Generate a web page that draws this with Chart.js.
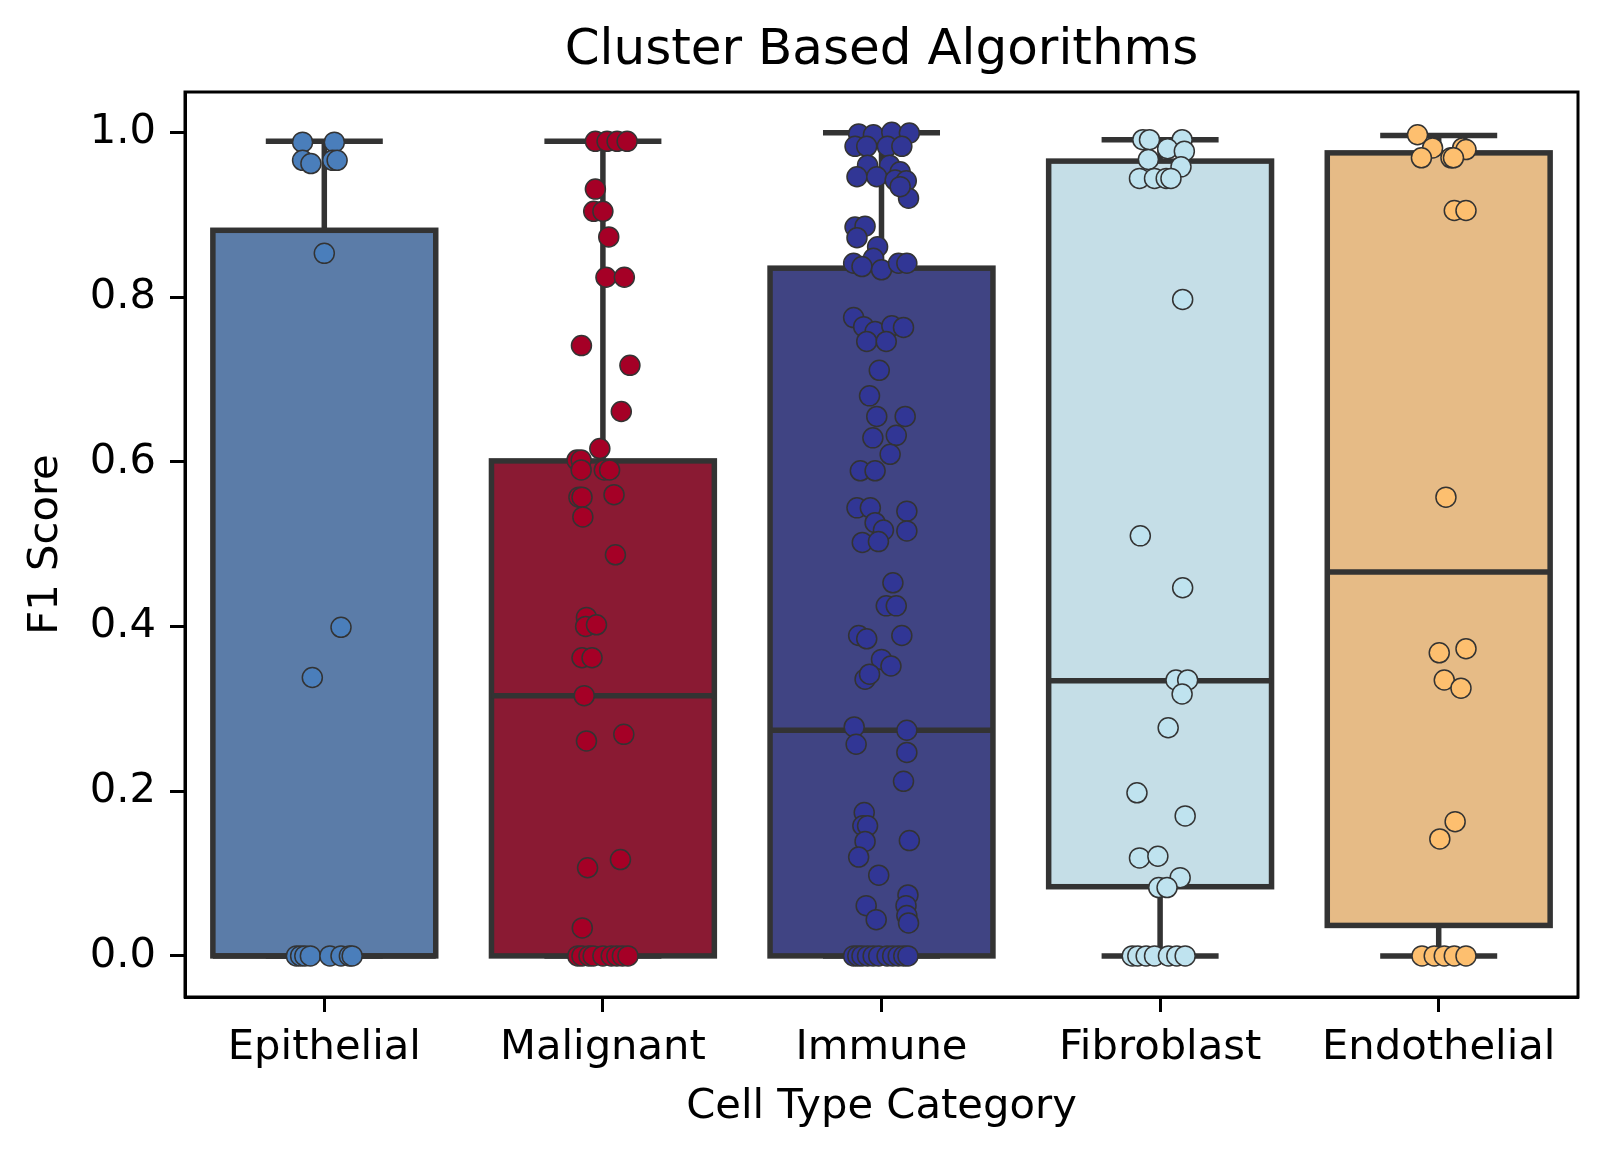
<!DOCTYPE html>
<html>
<head>
<meta charset="utf-8">
<script src="https://cdn.jsdelivr.net/npm/chart.js@4.4.1/dist/chart.umd.min.js"></script>
<style>
  html, body { margin: 0; padding: 0; background: #fff; }
  #wrap { width: 1609px; height: 1158px; }
</style>
</head>
<body>
<div id="wrap"><canvas id="boxChart" width="1609" height="1158"></canvas></div>
<script>
const categories = ["Epithelial", "Malignant", "Immune", "Fibroblast", "Endothelial"];
const yTicks = [0, 0.2, 0.4, 0.6, 0.8, 1.0];
const chartTitle = "Cluster Based Algorithms";

// box stats
const q1 = [0, 0, 0, 0.084, 0.037];
const medians = [0, 0.316, 0.274, 0.334, 0.466];
const q3 = [0.881, 0.601, 0.835, 0.965, 0.975];
const whiskerLow = [0, 0, 0, 0, 0];
const whiskerHigh = [0.989, 0.989, 0.9995, 0.991, 0.996];

// strip points: F1 values + horizontal jitter (in category units)
const epithelialF1 = [0.988, 0.988, 0.966, 0.962, 0.966, 0.966, 0.853, 0.399, 0.338,
  0, 0, 0, 0, 0, 0, 0, 0];
const epithelialJitter = [-0.078, 0.036, -0.078, -0.048, 0.03, 0.046, 0.0, 0.06, -0.043,
  -0.1, -0.085, -0.07, -0.05, 0.02, 0.06, 0.09, 0.1];

const malignantF1 = [0.989, 0.989, 0.989, 0.989, 0.931, 0.904, 0.904, 0.873, 0.824, 0.824,
  0.741, 0.717, 0.661, 0.616, 0.602, 0.602, 0.590, 0.590, 0.590, 0.557, 0.557, 0.560, 0.533,
  0.487, 0.411, 0.400, 0.402, 0.362, 0.362, 0.316, 0.269, 0.261, 0.117, 0.107, 0.034,
  0, 0, 0, 0, 0, 0, 0, 0, 0];
const malignantJitter = [-0.027, 0.015, 0.051, 0.087, -0.027, -0.033, 0.0, 0.021, 0.011, 0.077,
  -0.077, 0.097, 0.066, -0.011, -0.093, -0.078, -0.078, 0.005, 0.024, -0.086, -0.075, 0.04, -0.072,
  0.045, -0.059, -0.062, -0.023, -0.075, -0.039, -0.067, 0.075, -0.059, 0.063, -0.055, -0.074,
  -0.09, -0.075, -0.05, -0.035, 0.0, 0.03, 0.05, 0.07, 0.09];

const immuneF1 = [0.998, 0.997, 1.0, 0.999, 0.983, 0.983, 0.983, 0.983,
  0.960, 0.960, 0.952, 0.946, 0.946, 0.942, 0.941, 0.920, 0.934,
  0.885, 0.886, 0.872, 0.861, 0.847, 0.841, 0.837, 0.833, 0.841, 0.841,
  0.775, 0.764, 0.758, 0.765, 0.763, 0.746, 0.746,
  0.711, 0.680, 0.655, 0.655, 0.629, 0.632, 0.609,
  0.589, 0.589, 0.544, 0.544, 0.540, 0.526, 0.517, 0.516, 0.502, 0.503,
  0.453, 0.425, 0.425, 0.389, 0.385, 0.389, 0.360, 0.352, 0.336, 0.342,
  0.278, 0.274, 0.257, 0.247, 0.212,
  0.174, 0.158, 0.158, 0.139, 0.140, 0.120, 0.098,
  0.074, 0.061, 0.049, 0.040, 0.061, 0.044,
  0, 0, 0, 0, 0, 0, 0, 0, 0, 0, 0];
const immuneJitter = [-0.082, -0.029, 0.037, 0.1, -0.095, -0.053, 0.021, 0.073,
  -0.05, 0.029, 0.067, -0.088, -0.017, 0.049, 0.089, 0.097, 0.067,
  -0.095, -0.059, -0.088, -0.014, -0.029, -0.1, -0.07, 0.0, 0.061, 0.091,
  -0.1, -0.064, -0.023, 0.037, 0.079, -0.053, 0.017,
  -0.008, -0.043, -0.017, 0.085, -0.031, 0.053, 0.031,
  -0.076, -0.023, -0.088, -0.04, 0.091, -0.023, 0.007, 0.091, -0.069, -0.011,
  0.041, 0.017, 0.053, -0.082, -0.053, 0.073, 0.0, 0.034, -0.059, -0.043,
  -0.098, 0.091, -0.091, 0.091, 0.079,
  -0.062, -0.067, -0.05, -0.059, 0.1, -0.082, -0.01,
  0.095, 0.088, 0.091, 0.097, -0.055, -0.019,
  -0.1, -0.085, -0.07, -0.05, -0.03, -0.01, 0.02, 0.04, 0.06, 0.08, 0.095];

const fibroblastF1 = [0.991, 0.991, 0.991, 0.980, 0.977, 0.967, 0.958, 0.944, 0.944, 0.944, 0.944,
  0.797, 0.510, 0.447, 0.335, 0.335, 0.318, 0.277, 0.198, 0.170, 0.119, 0.121, 0.095, 0.083, 0.083,
  0, 0, 0, 0, 0, 0, 0];
const fibroblastJitter = [-0.062, -0.038, 0.079, 0.027, 0.087, -0.042, 0.075, -0.074, -0.02, 0.022, 0.039,
  0.081, -0.071, 0.081, 0.057, 0.099, 0.079, 0.029, -0.083, 0.09, -0.074, -0.008, 0.072, -0.005, 0.025,
  -0.1, -0.08, -0.05, -0.02, 0.03, 0.06, 0.09];

const endothelialF1 = [0.997, 0.981, 0.981, 0.979, 0.969, 0.969, 0.969, 0.905, 0.905,
  0.557, 0.368, 0.373, 0.335, 0.325, 0.163, 0.142,
  0, 0, 0, 0, 0];
const endothelialJitter = [-0.076, -0.022, 0.086, 0.098, -0.062, 0.044, 0.053, 0.056, 0.098,
  0.026, 0.002, 0.098, 0.02, 0.08, 0.059, 0.004,
  -0.06, -0.016, 0.02, 0.056, 0.098];

const pointValues = [epithelialF1, malignantF1, immuneF1, fibroblastF1, endothelialF1];
const pointJitter = [epithelialJitter, malignantJitter, immuneJitter, fibroblastJitter, endothelialJitter];

const pointColors = ["#4a7ebb", "#a50026", "#313695", "#bfe3ef", "#fdbf6f"];
const boxColors = ["#5b7ca8", "#8a1a33", "#404483", "#c5dee7", "#e6bb86"];
const lineColor = "#333333";
const FONT = "'DejaVu Sans', sans-serif";

const datasets = categories.map((cat, i) => ({
  label: cat,
  data: pointValues[i].map((v, j) => ({ x: i + pointJitter[i][j], y: v })),
  backgroundColor: pointColors[i],
  borderColor: lineColor,
  borderWidth: 1.5,
  pointRadius: 10,
  pointHoverRadius: 10,
  clip: false
}));

// boxes + whiskers drawn through the chart's scales
const boxPlugin = {
  id: "boxes",
  beforeDatasetsDraw(chart) {
    const { ctx, scales: { x, y } } = chart;
    ctx.save();
    ctx.strokeStyle = lineColor;
    ctx.lineWidth = 5.5;
    ctx.lineCap = "butt";
    categories.forEach((c, i) => {
      const l = x.getPixelForValue(i - 0.4);
      const r = x.getPixelForValue(i + 0.4);
      const cx = x.getPixelForValue(i);
      const cl = x.getPixelForValue(i - 0.21);
      const cr = x.getPixelForValue(i + 0.21);
      const top = y.getPixelForValue(q3[i]);
      const bot = y.getPixelForValue(q1[i]);
      const hi = y.getPixelForValue(whiskerHigh[i]);
      const lo = y.getPixelForValue(whiskerLow[i]);
      // whiskers
      ctx.beginPath();
      ctx.moveTo(cx, top); ctx.lineTo(cx, hi);
      ctx.moveTo(cl, hi); ctx.lineTo(cr, hi);
      ctx.moveTo(cx, bot); ctx.lineTo(cx, lo);
      ctx.moveTo(cl, lo); ctx.lineTo(cr, lo);
      ctx.stroke();
      // box
      ctx.fillStyle = boxColors[i];
      ctx.fillRect(l, top, r - l, bot - top);
      ctx.strokeRect(l, top, r - l, bot - top);
      // median
      const m = y.getPixelForValue(medians[i]);
      ctx.beginPath();
      ctx.moveTo(l, m); ctx.lineTo(r, m);
      ctx.stroke();
    });
    ctx.restore();
  },
  afterDraw(chart) {
    const { ctx, chartArea: a } = chart;
    ctx.save();
    ctx.strokeStyle = "#000";
    ctx.lineWidth = 3;
    ctx.strokeRect(a.left, a.top, a.right - a.left, a.bottom - a.top);
    // title centred over the axes, like matplotlib
    ctx.fillStyle = "#000";
    ctx.font = "50px " + FONT;
    ctx.textAlign = "center";
    ctx.textBaseline = "middle";
    ctx.fillText(chartTitle, (a.left + a.right) / 2, 51);
    ctx.restore();
  }
};

new Chart(document.getElementById("boxChart"), {
  type: "scatter",
  data: { datasets },
  plugins: [boxPlugin],
  options: {
    responsive: false,
    animation: false,
    events: [],
    layout: { padding: { left: 0, right: 31, top: 92, bottom: 0 } },
    plugins: {
      legend: { display: false },
      tooltip: { enabled: false },
      title: { display: false }
    },
    scales: {
      x: {
        type: "linear",
        min: -0.5,
        max: 4.5,
        afterBuildTicks: (s) => { s.ticks = categories.map((c, i) => ({ value: i })); },
        afterFit: (s) => { s.height = 161; },
        ticks: {
          callback: (v) => categories[v],
          color: "#000",
          padding: 11,
          maxRotation: 0,
          autoSkip: false,
          font: { family: FONT, size: 41.7 }
        },
        grid: { drawOnChartArea: false, drawTicks: true, tickLength: 15, tickWidth: 3, tickColor: "#000" },
        border: { display: true, color: "#000", width: 3 },
        title: {
          display: true,
          text: "Cell Type Category",
          color: "#000",
          font: { family: FONT, size: 41.7 },
          padding: { top: 0, bottom: 26 }
        }
      },
      y: {
        min: -0.0499,
        max: 1.0489,
        afterBuildTicks: (s) => { s.ticks = yTicks.map((v) => ({ value: v })); },
        afterFit: (s) => { s.width = 185; },
        ticks: {
          callback: (v) => v.toFixed(1),
          color: "#000",
          padding: 14,
          font: { family: FONT, size: 41.7 }
        },
        grid: { drawOnChartArea: false, drawTicks: true, tickLength: 15, tickWidth: 3, tickColor: "#000" },
        border: { display: true, color: "#000", width: 3 },
        title: {
          display: true,
          text: "F1 Score",
          color: "#000",
          font: { family: FONT, size: 41.7 },
          padding: { top: 21, bottom: 0 }
        }
      }
    }
  }
});
</script>
</body>
</html>
